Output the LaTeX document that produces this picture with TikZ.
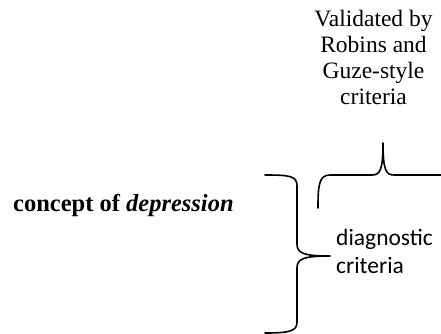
\documentclass[tikz,border=0pt]{standalone}
\usepackage{fontspec}
\setmainfont{Liberation Serif}
\newfontfamily\calib{Carlito}
\begin{document}
\begin{tikzpicture}[x=1pt,y=-1pt,
  bracestyle/.style={line width=1.6pt, line cap=round},
  serifttext/.style={font=\fontsize{23.5}{26}\selectfont, inner sep=0pt},
  sanstext/.style={font=\calib\fontsize{23.5}{28}\selectfont, inner sep=0pt}]
\useasboundingbox (0,0) rectangle (441,334);
\begin{scope}
\clip (0,0) rectangle (441,334);
% big right brace
\draw[bracestyle] (265,175) .. controls (290,175) and (297,176) .. (297,186)
  -- (297,244) .. controls (297,253) and (303,256) .. (330,256)
  (330,256) .. controls (303,256) and (297,259) .. (297,268)
  -- (297,322) .. controls (297,331) and (290,333) .. (265,333);
% top brace (clipped at right)
\draw[bracestyle] (318,208) .. controls (318,185) and (319,175) .. (330,175)
  -- (372,175) .. controls (380,175) and (383,170) .. (383,143)
  (383,143) .. controls (383,170) and (386,175) .. (394,175)
  -- (445,175);
\end{scope}
\node[font=\fontsize{24.5}{26}\selectfont, inner sep=0pt, anchor=base west] (concept) at (13,211) {\textbf{concept of \textit{depression}}};
\node[sanstext, anchor=base west, align=left] (diag) at (336,273) {diagnostic\\criteria};
\node[serifttext, anchor=base, align=center] (valid) at (373.5,105) {Validated by\\Robins and\\Guze-style\\criteria};
\end{tikzpicture}
\end{document}
